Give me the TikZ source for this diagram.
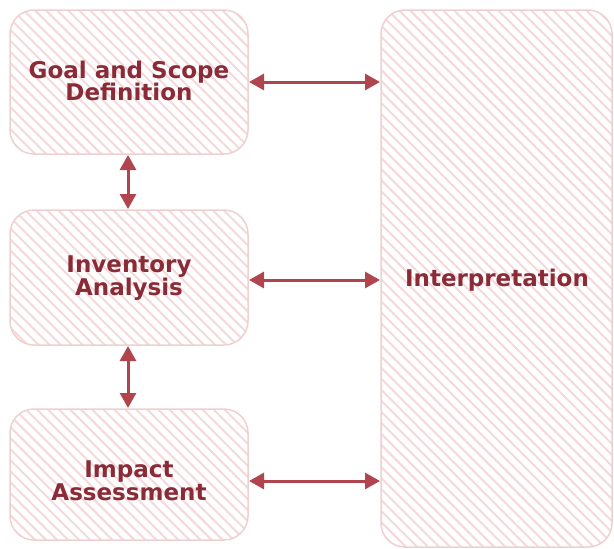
\documentclass[tikz,border=0pt]{standalone}
\usepackage{fontspec}
\setmainfont{DejaVu Sans}
\usetikzlibrary{patterns.meta,arrows.meta}
\definecolor{txtred}{HTML}{8A2B37}
\definecolor{arrred}{HTML}{B0454E}
\definecolor{edgepink}{HTML}{EFD0D0}
\definecolor{stripe}{HTML}{F4D9D9}
\tikzset{
  stagebox/.style={draw=edgepink, line width=1.5pt, rounded corners=24pt,
    pattern={Lines[angle=-45,distance=7.8pt,line width=2pt]}, pattern color=stripe},
  lbl/.style={text=txtred, font=\fontsize{23}{22.5}\selectfont\bfseries, align=center},
  link/.style={draw=arrred, line width=3pt, {Triangle[length=15pt,width=16pt]}-{Triangle[length=15pt,width=16pt]}, shorten <=1pt, shorten >=1pt}
}
\begin{document}
\begin{tikzpicture}[x=1pt,y=-1pt]
\useasboundingbox (0,0) rectangle (614,549);
\path[stagebox] (10,10) rectangle (248,154);
\path[stagebox] (10,210) rectangle (248,345);
\path[stagebox] (10,409) rectangle (248,540);
\path[stagebox] (381,10) rectangle (612,547);
\node[lbl] (goal) at (129,81) {Goal and Scope\\Definition};
\node[lbl] (inv) at (129,278) {Inventory\\Analysis};
\node[lbl] (imp) at (129,481) {Impact\\Assessment};
\node[lbl] (int) at (497,280) {Interpretation};
\coordinate (gE) at (248,82);
\coordinate (iE) at (248,280);
\coordinate (mE) at (248,481);
\coordinate (gI) at (381,82);
\coordinate (iI) at (381,280);
\coordinate (mI) at (381,481);
\coordinate (gS) at (128,154);
\coordinate (iN) at (128,210);
\coordinate (iS) at (128,345);
\coordinate (mN) at (128,409);
\draw[link] (gE) -- (gI);
\draw[link] (iE) -- (iI);
\draw[link] (mE) -- (mI);
\draw[link] (gS) -- (iN);
\draw[link] (iS) -- (mN);
\end{tikzpicture}
\end{document}
